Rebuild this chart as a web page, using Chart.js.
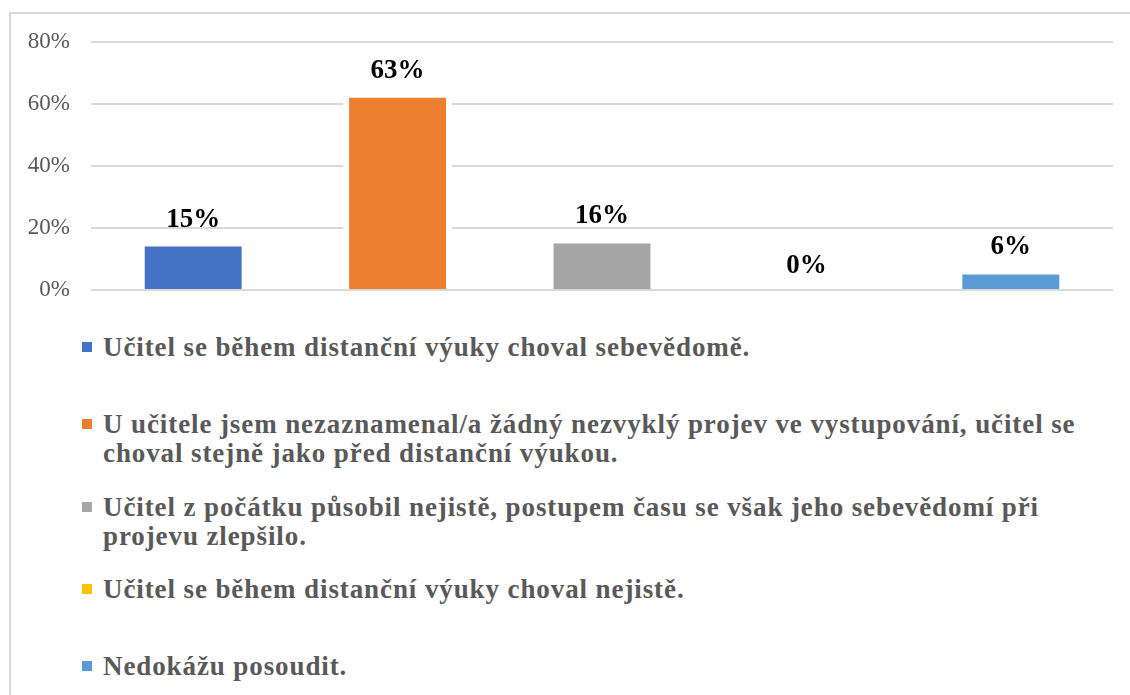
<!DOCTYPE html>
<html>
<head>
<meta charset="utf-8">
<script src="https://cdn.jsdelivr.net/npm/chart.js@4.4.1/dist/chart.umd.min.js"></script>
<style>
  html, body { margin: 0; padding: 0; background: #fff; }
  body { width: 1130px; height: 695px; position: relative; overflow: hidden; }
  #frame { position: absolute; left: 9px; top: 12px; width: 1200px; height: 800px;
           border: 2px solid #d9d9d9; box-sizing: border-box; }
  #wrap { position: absolute; left: 0; top: 0; width: 1130px; height: 325px; }
  #legend { position: absolute; left: 82px; top: 333px; width: 1020px;
            font-family: 'Liberation Serif', 'Times New Roman', serif; font-weight: bold;
            font-size: 27px; line-height: 29px; color: #595959; letter-spacing: 0.9px; }
  .item { position: relative; padding-left: 21px; }
  .box { position: absolute; left: 0; top: 9px; width: 10px; height: 10px; }
</style>
</head>
<body>
<div id="frame"></div>
<div id="wrap"><canvas id="chart" width="1130" height="325"></canvas></div>
<div id="legend"></div>
<script>
var categories = [
  'Učitel se během distanční výuky choval sebevědomě.',
  'U učitele jsem nezaznamenal/a žádný nezvyklý projev ve vystupování, učitel se choval stejně jako před distanční výukou.',
  'Učitel z počátku působil nejistě, postupem času se však jeho sebevědomí při projevu zlepšilo.',
  'Učitel se během distanční výuky choval nejistě.',
  'Nedokážu posoudit.'
];
var values = [15, 63, 16, 0, 6];
var colors = ['#4472C4', '#ED7D31', '#A5A5A5', '#FFC000', '#5B9BD5'];
var yTicks = [0, 20, 40, 60, 80];

// value labels above the bars
var labelPlugin = {
  id: 'barLabels',
  afterDatasetsDraw: function (chart) {
    var ctx = chart.ctx;
    var meta = chart.getDatasetMeta(0);
    ctx.save();
    ctx.font = 'bold 27px "Liberation Serif", "Times New Roman", serif';
    ctx.fillStyle = '#000';
    ctx.textAlign = 'center';
    ctx.textBaseline = 'alphabetic';
    meta.data.forEach(function (bar, i) {
      ctx.fillText(Math.round(values[i]) + '%', bar.x, bar.y - 17);
    });
    ctx.restore();
  }
};

var ctx = document.getElementById('chart').getContext('2d');
var myChart = new Chart(ctx, {
  type: 'bar',
  data: {
    labels: categories,
    datasets: [{
      data: values,
      backgroundColor: colors,
      borderColor: '#ffffff',
      borderWidth: { left: 6, right: 6, top: 3, bottom: 0 },
      borderSkipped: 'start',
      barPercentage: 0.533,
      categoryPercentage: 1
    }]
  },
  options: {
    responsive: false,
    animation: false,
    devicePixelRatio: 1,
    // y tick padding adds ~35px below the axis, so the canvas is taller
    layout: { padding: { left: 20, right: 17, top: 42, bottom: 35 } },
    plugins: { legend: { display: false }, tooltip: { enabled: false } },
    scales: {
      x: { display: false, ticks: { display: false }, grid: { display: false } },
      y: {
        min: 0,
        max: 80,
        afterFit: function (scale) { scale.width = 71; },
        afterBuildTicks: function (scale) {
          scale.ticks = yTicks.map(function (v) { return { value: v }; });
        },
        ticks: {
          padding: 21,
          color: '#595959',
          font: { family: '"Liberation Serif", "Times New Roman", serif', size: 23 },
          callback: function (v) { return v + '%'; }
        },
        grid: { color: '#d9d9d9', lineWidth: 2, drawTicks: false },
        border: { display: false }
      }
    }
  },
  plugins: [labelPlugin]
});

// legend listing the categories
var legend = document.getElementById('legend');
var slot = [77, 83, 82, 77, 77];
categories.forEach(function (c, i) {
  var item = document.createElement('div');
  item.className = 'item';
  item.style.height = slot[i] + 'px';
  var box = document.createElement('span');
  box.className = 'box';
  box.style.background = colors[i];
  item.appendChild(box);
  item.appendChild(document.createTextNode(c));
  legend.appendChild(item);
});
</script>
</body>
</html>
